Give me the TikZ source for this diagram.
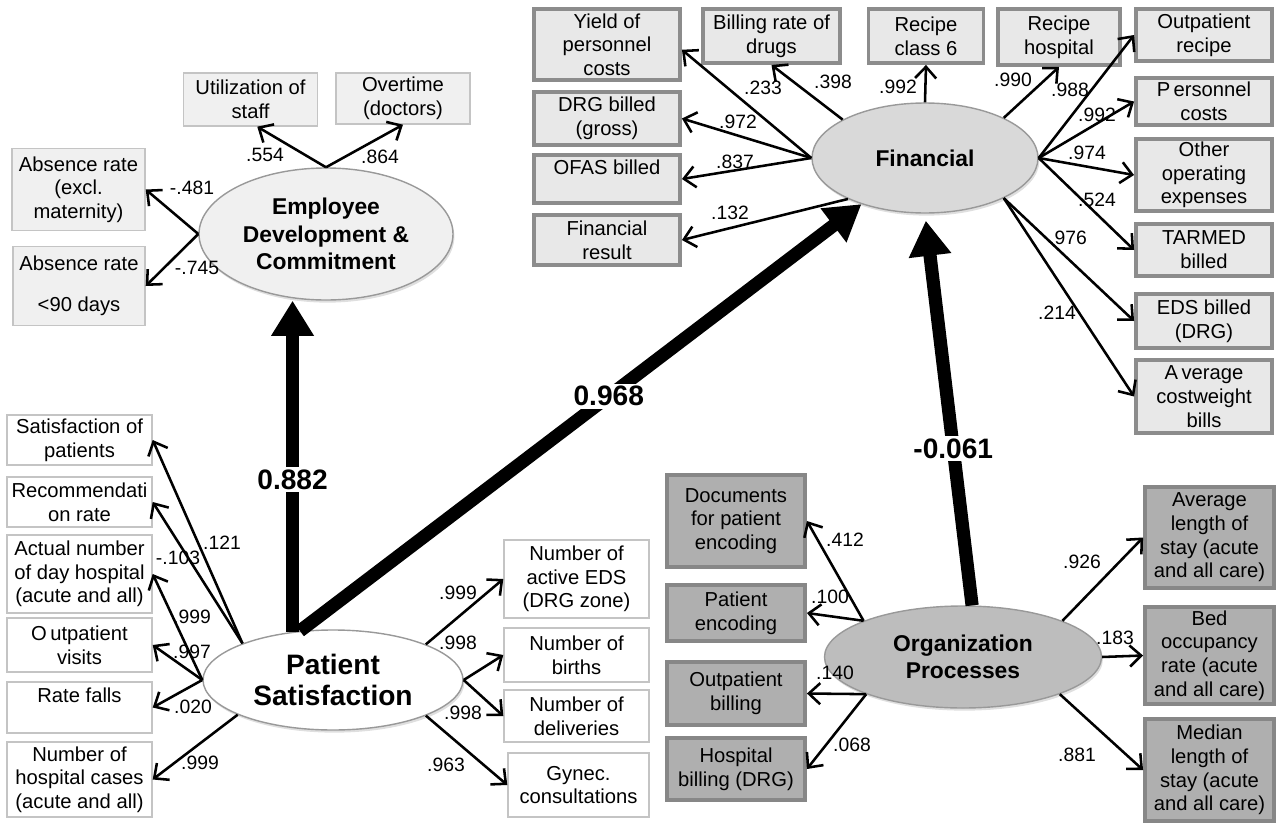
\documentclass[tikz,border=0pt]{standalone}
\usepackage{fontspec}
\setmainfont{Liberation Sans}
\usetikzlibrary{shapes, shadows, arrows.meta, calc, positioning}

\definecolor{empfill}{HTML}{F0F0F0}
\definecolor{empline}{HTML}{C4C4C4}
\definecolor{finfill}{HTML}{E8E8E8}
\definecolor{finline}{HTML}{8C8C8C}
\definecolor{orgfill}{HTML}{AFAFAF}
\definecolor{orgline}{HTML}{878787}
\definecolor{patline}{HTML}{C4C4C4}

\tikzset{
  boxsize/.style 2 args={minimum width=#1*0.02cm, minimum height=#2*0.02cm},
  basebox/.style={rectangle, align=center, inner sep=1pt, font=\fontsize{11.5}{13.5}\selectfont},
  empbox/.style={basebox, fill=empfill, draw=empline, line width=0.8pt},
  finbox/.style={basebox, fill=finfill, draw=finline, line width=2.2pt},
  orgbox/.style={basebox, fill=orgfill, draw=orgline, line width=2.2pt},
  patbox/.style={basebox, fill=white, draw=patline, line width=0.8pt},
  latent/.style={ellipse, align=center, inner sep=0pt, draw=black!40, line width=0.8pt,
    drop shadow={opacity=0.25, shadow xshift=0.8pt, shadow yshift=-1.5pt},
    font=\bfseries\fontsize{13}{15.5}\selectfont},
  link/.style={-{Straight Barb[length=6.5pt,width=12pt]}, line width=1.45pt},
  effect/.style={-{Triangle[length=20pt,width=23pt]}, line width=7.5pt},
  coef/.style={inner sep=0pt, font=\fontsize{11}{12}\selectfont},
  bigcoef/.style={fill=white, inner sep=1.5pt, font=\bfseries\fontsize{16}{18}\selectfont},
}

\begin{document}
\begin{tikzpicture}[x=0.02cm, y=-0.02cm]
  \useasboundingbox (0,0) rectangle (1276,825);

  % latent variables
  \node[latent, fill=empfill, boxsize={254}{132}] (edc) at (326,234) {Employee\\Development \&\\Commitment};
  \node[latent, fill=black!15, boxsize={226}{110}] (fin) at (925,158) {Financial};
  \node[latent, fill=black!26, boxsize={277}{102}] (org) at (963,657) {Organization\\Processes};
  \node[latent, fill=white, boxsize={260}{100}, font=\bfseries\fontsize{16}{18}\selectfont] (pat) at (333,680) {Patient\\Satisfaction};

  % employee indicators
  \node[empbox, boxsize={134}{53}] (util) at (250.5,99.5) {Utilization of\\staff};
  \node[empbox, boxsize={134}{51}] (overt) at (403,98.5) {Overtime\\(doctors)};
  \node[empbox, boxsize={133}{82}] (absA) at (78.5,189.5) {Absence rate\\(excl.\\maternity)};
  \node[empbox, boxsize={132}{79}] (absB) at (79,286) {Absence rate\\[10pt]<90 days};

  % financial indicators
  \node[finbox, boxsize={146}{71}] (yield) at (607,44.5) {Yield of\\personnel\\costs};
  \node[finbox, boxsize={146}{53}] (drgb) at (607,118.5) {DRG billed\\(gross)};
  \node[finbox, boxsize={146}{48}] (ofas) at (607,179) {OFAS billed\\\mbox{}};
  \node[finbox, boxsize={146}{50}] (finres) at (607,240) {Financial\\result};
  \node[finbox, boxsize={137}{54}] (billr) at (771.5,36) {Billing rate of\\drugs};
  \node[finbox, boxsize={115}{54}] (rec6) at (926,36) {Recipe\\class 6};
  \node[finbox, boxsize={122}{56}] (rechosp) at (1059,37) {Recipe\\hospital};
  \node[finbox, boxsize={136}{52}] (outrec) at (1204,35) {Outpatient\\recipe};
  \node[finbox, boxsize={136}{47}] (perscost) at (1204,101.5) {P\,ersonnel\\costs};
  \node[finbox, boxsize={136}{72}] (otherop) at (1204,175) {Other\\operating\\expenses};
  \node[finbox, boxsize={136}{52}] (tarmed) at (1204,250) {TARMED\\billed};
  \node[finbox, boxsize={136}{54}] (edsb) at (1204,321) {EDS billed\\(DRG)};
  \node[finbox, boxsize={136}{73}] (avgcw) at (1204,396.5) {A\,verage\\costweight\\bills};

  % organization indicators
  \node[orgbox, boxsize={138}{92}] (docs) at (736,521) {Documents\\for patient\\encoding};
  \node[orgbox, boxsize={138}{56}] (patenc) at (736,613) {Patient\\encoding};
  \node[orgbox, boxsize={138}{63}] (outbill) at (736,693.5) {Outpatient\\billing};
  \node[orgbox, boxsize={138}{62}] (hospbill) at (736,769) {Hospital\\billing (DRG)};
  \node[orgbox, boxsize={129}{101}] (avglos) at (1209.5,537.5) {Average\\length of\\stay (acute\\and all care)};
  \node[orgbox, boxsize={129}{97}] (bedocc) at (1209.5,655.5) {Bed\\occupancy\\rate (acute\\and all care)};
  \node[orgbox, boxsize={129}{102}] (medlos) at (1209.5,770) {Median\\length of\\stay (acute\\and all care)};

  % patient indicators
  \node[patbox, boxsize={145}{50}] (satpat) at (79.5,440) {Satisfaction of\\patients};
  \node[patbox, boxsize={145}{50}] (recomm) at (79.5,502) {Recommendati\\on rate};
  \node[patbox, boxsize={145}{78}] (actday) at (79.5,574) {Actual number\\of day hospital\\(acute and all)};
  \node[patbox, boxsize={145}{54}] (outvis) at (79.5,645) {O\,utpatient\\visits};
  \node[patbox, boxsize={145}{51}] (ratefall) at (79.5,707.5) {Rate falls\\\mbox{}};
  \node[patbox, boxsize={145}{75}] (hospcas) at (79.5,779.5) {Number of\\hospital cases\\(acute and all)};
  \node[patbox, boxsize={145}{78}] (nact) at (576.5,579) {Number of\\active EDS\\(DRG zone)};
  \node[patbox, boxsize={145}{54}] (births) at (576.5,655) {Number of\\births};
  \node[patbox, boxsize={145}{52}] (deliv) at (576.5,716) {Number of\\deliveries};
  \node[patbox, boxsize={141}{64}] (gynec) at (578.5,785) {Gynec.\\consultations};

  % loadings
  \draw[link] (edc.north) -- (util.-76) node[coef] (k1) at (265,155) {.554};
  \draw[link] (edc.north) -- (overt.south) node[coef] (k2) at (380,157) {.864};
  \draw[link] (edc.west) -- (absA.east) node[coef] (k3) at (192,188) {-.481};
  \draw[link] (edc.west) -- (absB.east) node[coef] (k4) at (197,268) {-.745};

  \draw[link] (fin.west) -- (yield.-4) node[coef] (k5) at (763,88) {.233};
  \draw[link] (fin.155) -- (billr.south) node[coef] (k6) at (833,82) {.398};
  \draw[link] (fin.north) -- (rec6.south) node[coef] (k7) at (898,87) {.992};
  \draw[link] (fin.west) -- (drgb.east) node[coef] (k8) at (738,122) {.972};
  \draw[link] (fin.west) -- (ofas.east) node[coef] (k9) at (735,162) {.837};
  \draw[link] (fin.208) -- (finres.east) node[coef] (k10) at (730,213) {.132};
  \draw[link] (fin.27) -- (rechosp.south) node[coef] (k11) at (1013,80) {.990};
  \draw[link] (fin.east) -- (outrec.west) node[coef] (k12) at (1070,90) {.988};
  \draw[link] (fin.east) -- (perscost.west) node[coef] (k13) at (1097,115) {.992};
  \draw[link] (fin.east) -- (otherop.west) node[coef] (k14) at (1087,153) {.974};
  \draw[link] (fin.east) -- (tarmed.west) node[coef] (k15) at (1097,200) {.524};
  \draw[link] (fin.-27) -- (edsb.west) node[coef] (k16) at (1068,238) {.976};
  \draw[link] (fin.-27) -- (avgcw.west) node[coef] (k17) at (1057,313) {.214};

  \draw[link] (pat.158) -- (satpat.east) node[coef] (k18) at (222,543) {.121};
  \draw[link] (pat.158) -- (recomm.east) node[coef] (k19) at (178,558) {-.103};
  \draw[link] (pat.west) -- (actday.east) node[coef] (k20) at (192,617) {.999};
  \draw[link] (pat.west) -- (outvis.east) node[coef] (k21) at (192,652) {.997};
  \draw[link] (pat.west) -- (ratefall.east) node[coef] (k22) at (193,707) {.020};
  \draw[link] (pat.200) -- (hospcas.east) node[coef] (k23) at (200,763) {.999};
  \draw[link] (pat.21) -- (nact.west) node[coef] (k24) at (458,593) {.999};
  \draw[link] (pat.east) -- (births.west) node[coef] (k25) at (458,643) {.998};
  \draw[link] (pat.east) -- (deliv.west) node[coef] (k26) at (463,713) {.998};
  \draw[link] (pat.-21) -- (gynec.west) node[coef] (k27) at (446,765) {.963};

  \draw[link] (org.160) -- (docs.east) node[coef] (k28) at (845,540) {.412};
  \draw[link] (org.160) -- (patenc.east) node[coef] (k29) at (830,597) {.100};
  \draw[link] (org.201) -- (outbill.east) node[coef] (k30) at (835,673) {.140};
  \draw[link] (org.201) -- (hospbill.east) node[coef] (k31) at (852,745) {.068};
  \draw[link] (org.20) -- (avglos.west) node[coef] (k32) at (1082,562) {.926};
  \draw[link] (org.east) -- (bedocc.west) node[coef] (k33) at (1115,638) {.183};
  \draw[link] (org.-21) -- (medlos.west) node[coef] (k34) at (1077,755) {.881};

  % structural paths
  \draw[effect] (pat.130) -- node[bigcoef, pos=.46] (p1) {0.882} (pat.130 |- edc.south);
  \draw[effect] (pat.124) -- node[bigcoef, pos=.55] (p2) {0.968} (fin.216);
  \draw[effect, shorten >=4pt] (org.80) -- node[bigcoef, pos=.4] (p3) {-0.061} (fin.south);
\end{tikzpicture}
\end{document}
